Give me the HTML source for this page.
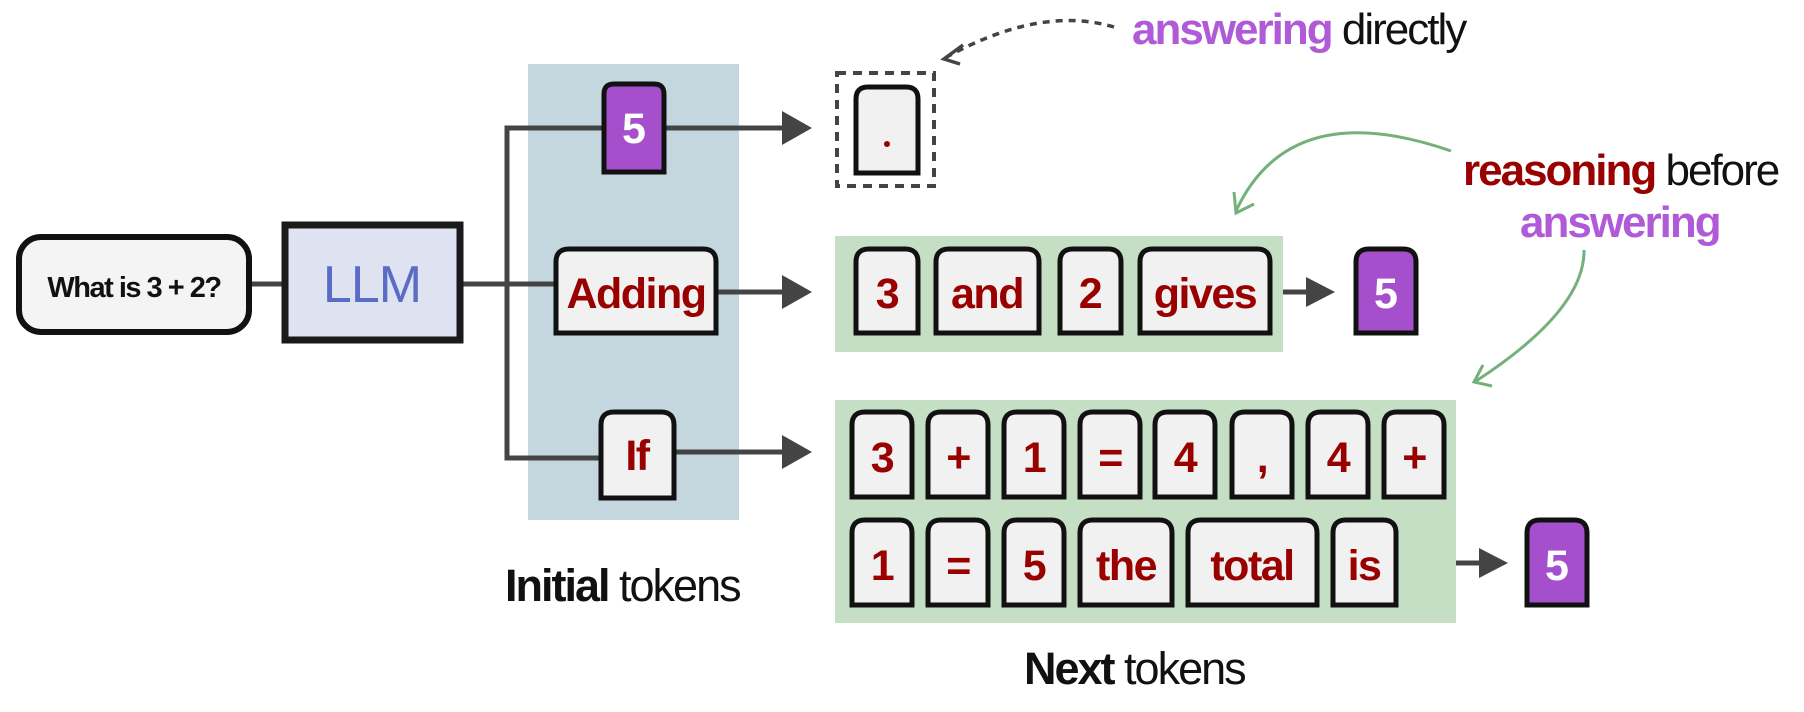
<!DOCTYPE html>
<html><head><meta charset="utf-8"><style>
html,body{margin:0;padding:0;background:#fff;}
svg{display:block;}
text{font-family:"Liberation Sans",sans-serif;}
.tk{fill:#f1f1f1;stroke:#111;stroke-width:5;}
.pk{fill:#a64fcc;stroke:#111;stroke-width:5;}
.tt{fill:#990000;font-size:43px;font-weight:bold;text-anchor:middle;letter-spacing:-1.5px;}
.pt{fill:#fff;font-size:43px;font-weight:bold;text-anchor:middle;}
.ln{stroke:#444;stroke-width:5;fill:none;}
.ah{fill:#444;}
</style></head><body>
<svg width="1804" height="712" viewBox="0 0 1804 712" xmlns="http://www.w3.org/2000/svg">
<rect x="528" y="64" width="211" height="456" fill="#c4d7de"/>
<rect x="835" y="236" width="448" height="116" fill="#c5dfc5"/>
<rect x="835" y="400" width="621" height="223" fill="#c5dfc5"/>

<line class="ln" x1="251" y1="284" x2="282" y2="284"/>
<line class="ln" x1="463" y1="284" x2="554" y2="284"/>
<polyline class="ln" points="602,128 507,128 507,458 599,458"/>
<line class="ln" x1="666" y1="128" x2="784" y2="128"/>
<polygon class="ah" points="782,111 812,128 782,145"/>
<line class="ln" x1="718" y1="292" x2="784" y2="292"/>
<polygon class="ah" points="782,275 812,292 782,309"/>
<line class="ln" x1="676" y1="452" x2="784" y2="452"/>
<polygon class="ah" points="782,435 812,452 782,469"/>
<line class="ln" x1="1283" y1="292" x2="1308" y2="292"/>
<polygon class="ah" points="1306,277 1335,292 1306,307"/>
<line class="ln" x1="1456" y1="563" x2="1481" y2="563"/>
<polygon class="ah" points="1479,548 1508,563 1479,578"/>

<rect x="19" y="237" width="230" height="95" rx="22" fill="#f4f4f4" stroke="#111" stroke-width="6"/>
<text x="134" y="297" font-size="29" font-weight="bold" text-anchor="middle" fill="#111" letter-spacing="-1.5">What is 3 + 2?</text>
<rect x="285" y="225" width="175" height="115" fill="#dfe2f1" stroke="#1a1a1a" stroke-width="7"/>
<text x="372" y="302" font-size="52" text-anchor="middle" fill="#5a6cc6" letter-spacing="-1">LLM</text>

<path class="pk" d="M604,172 V94 Q604,84 614,84 H654 Q664,84 664,94 V172 Z"/>
<text class="pt" x="634" y="143">5</text>
<path class="tk" d="M556,333 V262 Q556,249 569,249 H703 Q716,249 716,262 V333 Z"/>
<text class="tt" x="636" y="308">Adding</text>
<path class="tk" d="M601,498 V425 Q601,412 614,412 H661 Q674,412 674,425 V498 Z"/>
<text class="tt" x="637" y="470">If</text>

<rect x="837" y="73" width="97" height="113" fill="none" stroke="#444" stroke-width="4" stroke-dasharray="9,7"/>
<path class="tk" d="M856,173 V99 Q856,87 868,87 H906 Q918,87 918,99 V173 Z"/>
<circle cx="887" cy="144" r="3" fill="#990000"/>

<path class="tk" d="M856,333 V262 Q856,249 869,249 H905 Q918,249 918,262 V333 Z"/>
<text class="tt" x="887" y="308">3</text>
<path class="tk" d="M936,333 V262 Q936,249 949,249 H1026 Q1039,249 1039,262 V333 Z"/>
<text class="tt" x="987" y="308">and</text>
<path class="tk" d="M1060,333 V262 Q1060,249 1073,249 H1108 Q1121,249 1121,262 V333 Z"/>
<text class="tt" x="1090" y="308">2</text>
<path class="tk" d="M1140,333 V262 Q1140,249 1153,249 H1257 Q1270,249 1270,262 V333 Z"/>
<text class="tt" x="1205" y="308">gives</text>
<path class="pk" d="M1356,333 V262 Q1356,249 1369,249 H1403 Q1416,249 1416,262 V333 Z"/>
<text class="pt" x="1386" y="308">5</text>

<g>
<path class="tk" d="M852,497 V425 Q852,412 865,412 H899 Q912,412 912,425 V497 Z"/><text class="tt" x="882" y="472">3</text>
<path class="tk" d="M928,497 V425 Q928,412 941,412 H975 Q988,412 988,425 V497 Z"/><text class="tt" x="958" y="472">+</text>
<path class="tk" d="M1004,497 V425 Q1004,412 1017,412 H1051 Q1064,412 1064,425 V497 Z"/><text class="tt" x="1034" y="472">1</text>
<path class="tk" d="M1080,497 V425 Q1080,412 1093,412 H1127 Q1140,412 1140,425 V497 Z"/><text class="tt" x="1110" y="472">=</text>
<path class="tk" d="M1155,497 V425 Q1155,412 1168,412 H1202 Q1215,412 1215,425 V497 Z"/><text class="tt" x="1185" y="472">4</text>
<path class="tk" d="M1232,497 V425 Q1232,412 1245,412 H1279 Q1292,412 1292,425 V497 Z"/><text class="tt" x="1262" y="472">,</text>
<path class="tk" d="M1308,497 V425 Q1308,412 1321,412 H1355 Q1368,412 1368,425 V497 Z"/><text class="tt" x="1338" y="472">4</text>
<path class="tk" d="M1384,497 V425 Q1384,412 1397,412 H1431 Q1444,412 1444,425 V497 Z"/><text class="tt" x="1414" y="472">+</text>
</g>
<g>
<path class="tk" d="M852,605 V533 Q852,520 865,520 H899 Q912,520 912,533 V605 Z"/><text class="tt" x="882" y="580">1</text>
<path class="tk" d="M928,605 V533 Q928,520 941,520 H975 Q988,520 988,533 V605 Z"/><text class="tt" x="958" y="580">=</text>
<path class="tk" d="M1004,605 V533 Q1004,520 1017,520 H1051 Q1064,520 1064,533 V605 Z"/><text class="tt" x="1034" y="580">5</text>
<path class="tk" d="M1080,605 V533 Q1080,520 1093,520 H1159 Q1172,520 1172,533 V605 Z"/><text class="tt" x="1126" y="580">the</text>
<path class="tk" d="M1188,605 V533 Q1188,520 1201,520 H1304 Q1317,520 1317,533 V605 Z"/><text class="tt" x="1252" y="580">total</text>
<path class="tk" d="M1333,605 V533 Q1333,520 1346,520 H1383 Q1396,520 1396,533 V605 Z"/><text class="tt" x="1364" y="580">is</text>
</g>
<path class="pk" d="M1527,605 V533 Q1527,520 1540,520 H1574 Q1587,520 1587,533 V605 Z"/>
<text class="pt" x="1557" y="580">5</text>

<text x="505" y="601" font-size="45" fill="#111" letter-spacing="-2"><tspan font-weight="bold">Initial</tspan> tokens</text>
<text x="1024" y="684" font-size="45" fill="#111" letter-spacing="-2"><tspan font-weight="bold">Next</tspan> tokens</text>
<text x="1132" y="44" font-size="44" fill="#111" letter-spacing="-2"><tspan font-weight="bold" fill="#b05ad8">answering</tspan> directly</text>
<text x="1463" y="185" font-size="44" fill="#111" letter-spacing="-2"><tspan font-weight="bold" fill="#990000">reasoning</tspan> before</text>
<text x="1520" y="237" font-size="44" font-weight="bold" fill="#b05ad8" letter-spacing="-2">answering</text>

<path d="M1114,27 Q1040,5 945,58" fill="none" stroke="#444" stroke-width="3.5" stroke-dasharray="7,6"/>
<polyline points="963,45 944,59 960,64" fill="none" stroke="#444" stroke-width="3.5"/>
<path d="M1451,151 Q1290,95 1236,211" fill="none" stroke="#74b17a" stroke-width="3"/>
<polyline points="1234,192 1236,213 1254,204" fill="none" stroke="#74b17a" stroke-width="3"/>
<path d="M1584,250 Q1585,310 1476,381" fill="none" stroke="#74b17a" stroke-width="3"/>
<polyline points="1483,365 1474,382 1492,386" fill="none" stroke="#74b17a" stroke-width="3"/>
</svg>
</body></html>
